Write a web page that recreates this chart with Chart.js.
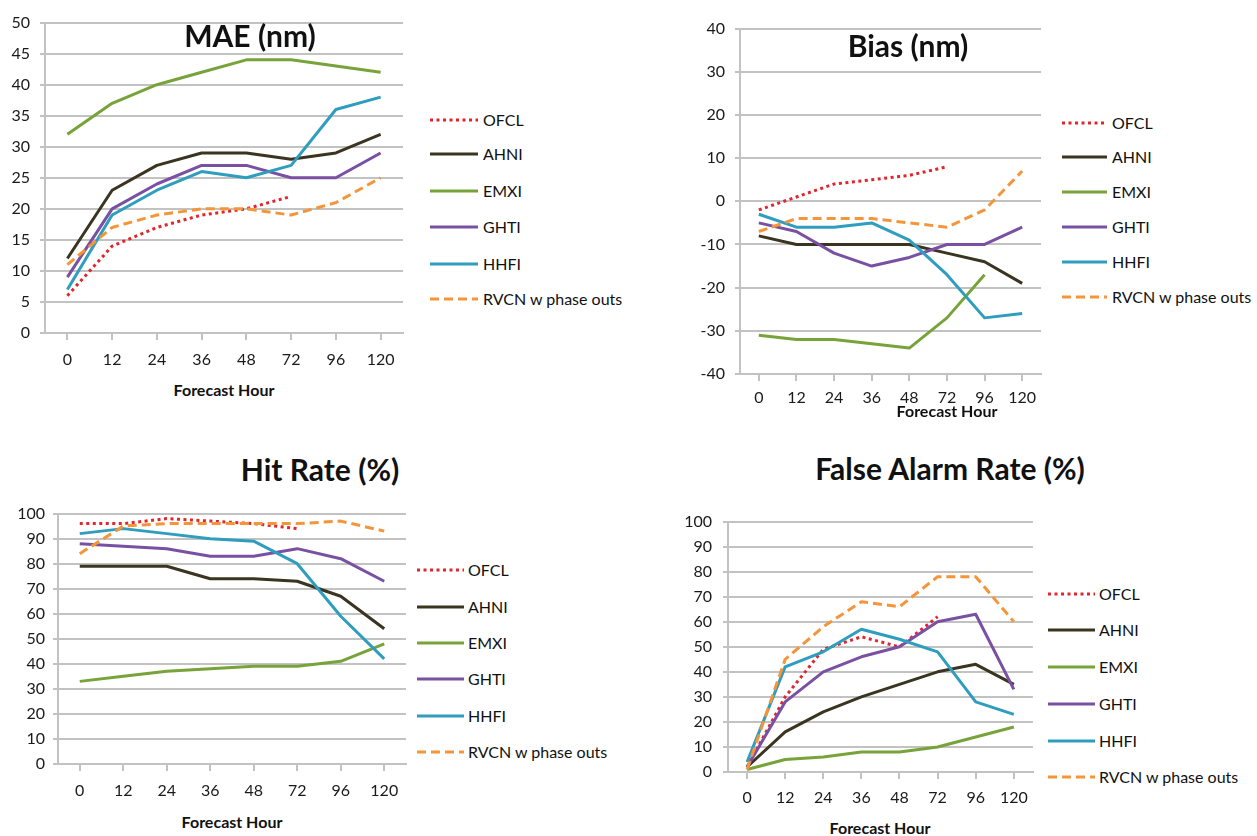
<!DOCTYPE html>
<html>
<head>
<meta charset="utf-8">
<script src="https://cdn.jsdelivr.net/npm/chart.js@4.4.1/dist/chart.umd.min.js"></script>
<style>
  body { margin: 0; background: #fff; font-family: Lato, sans-serif; }
  #wrap { position: relative; width: 1257px; height: 836px; overflow: hidden; background: #fff; }
  canvas { position: absolute; }
  .ttl { position: absolute; font-weight: bold; font-size: 30px; line-height: 30px; color: #111; white-space: nowrap; transform: translate(-50%, -50%); }
  .xt { position: absolute; font-weight: bold; font-size: 16px; line-height: 16px; color: #111; white-space: nowrap; transform: translate(-50%, -50%); }
  .lgtxt { position: absolute; font-size: 16px; line-height: 16px; color: #111; white-space: nowrap; transform: translateY(-50%); }
  svg.lgl { position: absolute; overflow: visible; }
</style>
</head>
<body>
<div id="wrap">
  <canvas id="mae" width="407" height="375" style="left:0px;top:3px"></canvas>
  <canvas id="bias" width="365" height="405" style="left:680px;top:9px"></canvas>
  <canvas id="hit" width="410" height="308" style="left:0px;top:496px"></canvas>
  <canvas id="far" width="369" height="311" style="left:668px;top:501px"></canvas>
</div>
<script>
// horas de pronostico (categorias)
const horas = ['0', '12', '24', '36', '48', '72', '96', '120'];
const modelos = ['OFCL', 'AHNI', 'EMXI', 'GHTI', 'HHFI', 'RVCN w phase outs'];

// MAE (nm)
const maeOFCL = [6, 14, 17, 19, 20, 22, null, null];
const maeAHNI = [12, 23, 27, 29, 29, 28, 29, 32];
const maeEMXI = [32, 37, 40, 42, 44, 44, 43, 42];
const maeGHTI = [9, 20, 24, 27, 27, 25, 25, 29];
const maeHHFI = [7, 19, 23, 26, 25, 27, 36, 38];
const maeRVCN = [11, 17, 19, 20, 20, 19, 21, 25];

// Bias (nm)
const biasOFCL = [-2, 1, 4, 5, 6, 8, null, null];
const biasAHNI = [-8, -10, -10, -10, -10, -12, -14, -19];
const biasEMXI = [-31, -32, -32, -33, -34, -27, -17, null];
const biasGHTI = [-5, -7, -12, -15, -13, -10, -10, -6];
const biasHHFI = [-3, -6, -6, -5, -9, -17, -27, -26];
const biasRVCN = [-7, -4, -4, -4, -5, -6, -2, 7];

// Hit Rate (%)
const hitOFCL = [96, 96, 98, 97, 96, 94, null, null];
const hitAHNI = [79, 79, 79, 74, 74, 73, 67, 54];
const hitEMXI = [33, 35, 37, 38, 39, 39, 41, 48];
const hitGHTI = [88, 87, 86, 83, 83, 86, 82, 73];
const hitHHFI = [92, 94, 92, 90, 89, 80, 59, 42];
const hitRVCN = [84, 95, 96, 96, 96, 96, 97, 93];

// False Alarm Rate (%)
const farOFCL = [2, 30, 49, 54, 50, 62, null, null];
const farAHNI = [2, 16, 24, 30, 35, 40, 43, 35];
const farEMXI = [1, 5, 6, 8, 8, 10, 14, 18];
const farGHTI = [2, 28, 40, 46, 50, 60, 63, 33];
const farHHFI = [4, 42, 48, 57, 53, 48, 28, 23];
const farRVCN = [1, 45, 58, 68, 66, 78, 78, 60];

// estilos de cada modelo
const colores = ['#e1252c', '#3a3420', '#78a33b', '#7a51a2', '#2f9dbe', '#f5953a'];
const guiones = [[3, 3.5], [], [], [], [], [9, 5]];

const gris = '#c2c2c2';
const wrap = document.getElementById('wrap');

function crearPanel(id, series, yMin, yMax, paso, g) {
  new Chart(document.getElementById(id), {
    type: 'line',
    data: {
      labels: horas,
      datasets: series.map((s, i) => ({
        label: modelos[i],
        data: s,
        borderColor: colores[i],
        backgroundColor: colores[i],
        borderWidth: 3,
        borderDash: guiones[i],
        borderCapStyle: 'butt',
        borderJoinStyle: 'round',
        pointRadius: 0,
        tension: 0,
        fill: false,
        order: -i
      }))
    },
    options: {
      responsive: false,
      animation: false,
      layout: { padding: { top: g.padTop, right: g.padRight, left: 0, bottom: 0 } },
      scales: {
        x: {
          offset: true,
          grid: { drawOnChartArea: false, drawTicks: true, tickLength: 7, color: gris, lineWidth: 2 },
          border: { display: true, color: gris, width: 2 },
          ticks: { color: '#1a1a1a', font: { family: 'Lato', size: 16 }, padding: g.xPad, maxRotation: 0, autoSkip: false },
          afterFit: s => { s.height = g.xh; }
        },
        y: {
          min: yMin,
          max: yMax,
          grid: { color: gris, lineWidth: 2, tickLength: 5 },
          border: { display: true, color: gris, width: 2 },
          ticks: { stepSize: paso, color: '#1a1a1a', font: { family: 'Lato', size: 16 }, padding: g.yPad },
          afterFit: s => { s.width = g.yw; }
        }
      },
      plugins: { legend: { display: false }, tooltip: { enabled: false } }
    }
  });
}

function texto(cls, txt, x, y) {
  const d = document.createElement('div');
  d.className = cls;
  d.textContent = txt;
  d.style.left = x + 'px';
  d.style.top = y + 'px';
  wrap.appendChild(d);
}

function leyenda(x0, x1, xt, filas) {
  modelos.forEach((m, i) => {
    const y = filas[i];
    const svg = document.createElementNS('http://www.w3.org/2000/svg', 'svg');
    svg.setAttribute('class', 'lgl');
    svg.setAttribute('width', x1 - x0);
    svg.setAttribute('height', 6);
    svg.style.left = x0 + 'px';
    svg.style.top = (y - 3) + 'px';
    const ln = document.createElementNS('http://www.w3.org/2000/svg', 'line');
    ln.setAttribute('x1', 0); ln.setAttribute('y1', 3);
    ln.setAttribute('x2', x1 - x0); ln.setAttribute('y2', 3);
    ln.setAttribute('stroke', colores[i]);
    ln.setAttribute('stroke-width', 3);
    if (guiones[i].length) ln.setAttribute('stroke-dasharray', guiones[i].join(' '));
    svg.appendChild(ln);
    wrap.appendChild(svg);
    texto('lgtxt', m, xt, y);
  });
}

crearPanel('mae', [maeOFCL, maeAHNI, maeEMXI, maeGHTI, maeHHFI, maeRVCN], 0, 50, 5,
  { padTop: 12, padRight: 4, yw: 45, xh: 45, xPad: 10, yPad: 10 });
crearPanel('bias', [biasOFCL, biasAHNI, biasEMXI, biasGHTI, biasHHFI, biasRVCN], -40, 40, 10,
  { padTop: 12, padRight: 4, yw: 60, xh: 40, xPad: 7, yPad: 10 });
crearPanel('hit', [hitOFCL, hitAHNI, hitEMXI, hitGHTI, hitHHFI, hitRVCN], 0, 100, 10,
  { padTop: 12, padRight: 4, yw: 58, xh: 40, xPad: 10, yPad: 8 });
crearPanel('far', [farOFCL, farAHNI, farEMXI, farGHTI, farHHFI, farRVCN], 0, 100, 10,
  { padTop: 12, padRight: 4, yw: 60, xh: 40, xPad: 9, yPad: 11 });

texto('ttl', 'MAE (nm)', 250, 35);
texto('ttl', 'Bias (nm)', 908, 45);
texto('ttl', 'Hit Rate (%)', 320, 469);
texto('ttl', 'False Alarm Rate (%)', 950, 468);

texto('xt', 'Forecast Hour', 224, 390);
texto('xt', 'Forecast Hour', 947, 411);
texto('xt', 'Forecast Hour', 232, 822);
texto('xt', 'Forecast Hour', 880, 828);

leyenda(430, 478, 483, [120, 154, 191, 227, 264, 299]);
leyenda(1062, 1107, 1112, [123, 157, 192, 227, 262, 297]);
leyenda(417, 464, 468, [570, 607, 643, 679, 716, 752]);
leyenda(1048, 1095, 1099, [594, 630, 667, 704, 741, 777]);
</script>
</body>
</html>
